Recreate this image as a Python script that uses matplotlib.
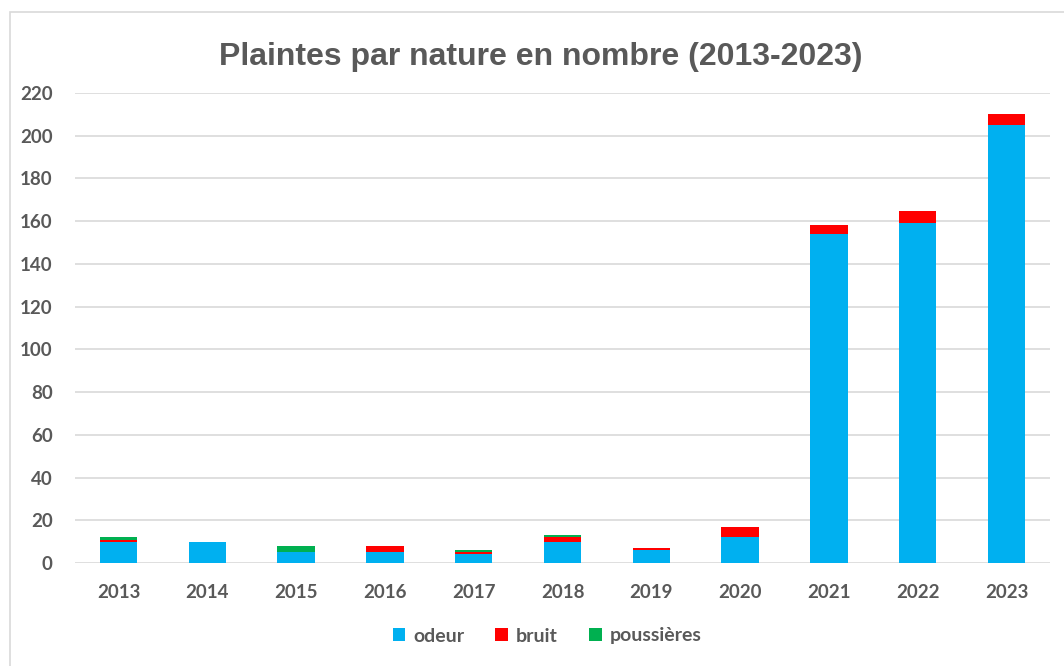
import matplotlib.pyplot as plt
from matplotlib.patches import Rectangle
import numpy as np

years = ['2013', '2014', '2015', '2016', '2017', '2018', '2019', '2020', '2021', '2022', '2023']
odeur = [10, 10, 5, 5, 4, 10, 6, 12, 154, 159, 205]
bruit = [1, 0, 0, 3, 1, 2, 1, 5, 4, 6, 5]
poussieres = [1, 0, 3, 0, 1, 1, 0, 0, 0, 0, 0]

labels = ['odeur', 'bruit', 'poussières']
colors = ['#00b0f0', '#ff0000', '#00b050']
yticks = list(range(0, 221, 20))

GREY = '#595959'
plt.rcParams['font.family'] = ['Lato', 'DejaVu Sans']

fig = plt.figure(figsize=(10.64, 6.66), dpi=100)
ax = fig.add_axes([75/1064, 1-563/666, (1050-75)/1064, (563-93)/666])

# light frame around the chart, like the spreadsheet export
fig.patches.append(Rectangle((10/1064, -0.01), 1.1, 1-12/666+0.01, transform=fig.transFigure,
                             fill=False, edgecolor='#d9d9d9', lw=1.2))

x = np.arange(len(years))
w = 0.42
o = np.array(odeur)
b = np.array(bruit)
p = np.array(poussieres)
ax.bar(x, o, w, color=colors[0], label=labels[0], zorder=3)
ax.bar(x, b, w, bottom=o, color=colors[1], label=labels[1], zorder=3)
ax.bar(x, p, w, bottom=o + b, color=colors[2], label=labels[2], zorder=3)

ax.set_xlim(-0.49, len(years) - 0.51)
ax.set_ylim(0, 220)
ax.set_yticks(yticks)
ax.set_xticks(x)
ax.set_xticklabels(years)
ax.grid(axis='y', color='#d9d9d9', lw=1.2, zorder=0)
for s in ax.spines.values():
    s.set_visible(False)
ax.tick_params(length=0, labelsize=13.5, labelcolor=GREY, pad=16)
ax.tick_params(axis='x', pad=15)
for t in ax.get_xticklabels() + ax.get_yticklabels():
    t.set_fontweight('bold')

fig.text(541/1064, 1-57/666, 'Plaintes par nature en nombre (2013-2023)', ha='center', va='center',
         fontsize=23, fontweight='bold', color=GREY,
         family=['Liberation Sans', 'DejaVu Sans'])

leg = fig.legend(loc='center', bbox_to_anchor=(547/1064, 1-636/666), ncol=3, frameon=False,
                 handlelength=0.65, handleheight=0.65, handletextpad=0.4, columnspacing=1.6,
                 prop={'size': 14, 'weight': 'bold'})
for t in leg.get_texts():
    t.set_color(GREY)
    t.set_fontweight('bold')

fig.savefig('out.png', dpi=100)
